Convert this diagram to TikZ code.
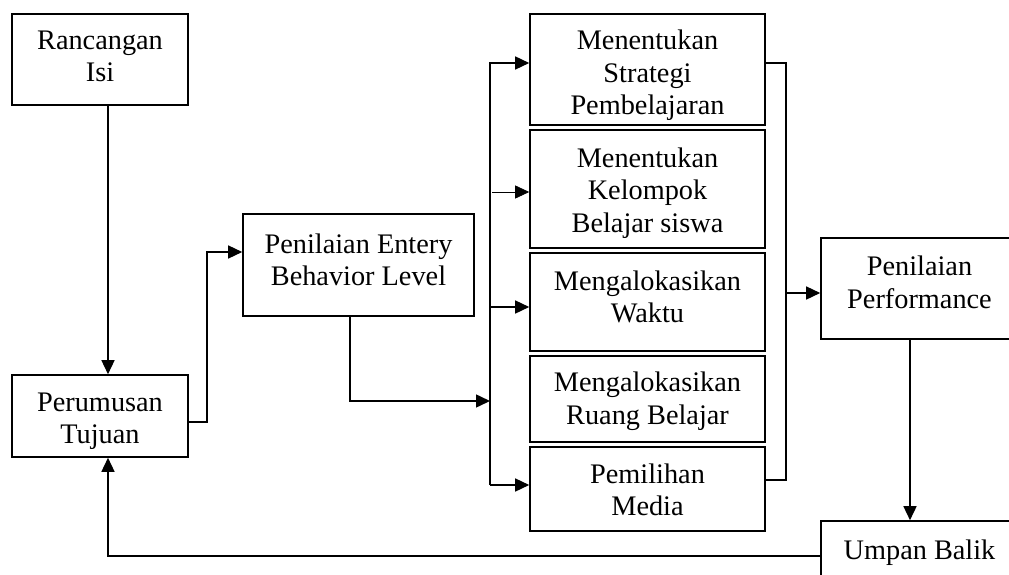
\documentclass[tikz,border=0pt]{standalone}
\usepackage{fontspec}
\setmainfont{Liberation Serif}
\usetikzlibrary{arrows.meta}
\begin{document}
\begin{tikzpicture}[x=1pt,y=-1pt,
  box/.style={draw, line width=1.6pt, inner sep=0pt},
  tx/.style={align=center, inner sep=0pt, font=\fontsize{28.3}{32.5}\selectfont},
  conn/.style={line width=1.5pt},
  arr/.style={conn, -{Triangle[length=14pt,width=13pt]}}]
\useasboundingbox (0,0) rectangle (1009,575);
\clip (0,0) rectangle (1009,575);
\fill[white] (0,0) rectangle (1009,575);
% nodes
\node[box, minimum width=176pt, minimum height=91pt,
  label={[tx,yshift=3pt]center:{Rancangan\\Isi}}] (ri) at (100,59.5) {};
\node[box, minimum width=176pt, minimum height=82pt,
  label={[tx,yshift=-5pt]center:{Perumusan\\Tujuan}}] (pt) at (100,416) {};
\node[box, minimum width=231pt, minimum height=102pt,
  label={[tx,yshift=5pt]center:{Penilaian Entery\\Behavior Level}}] (pe) at (358.5,265) {};
\node[box, minimum width=235pt, minimum height=111pt,
  label={[tx,yshift=-6pt]center:{Menentukan\\Strategi\\Pembelajaran}}] (b1) at (647.5,69.5) {};
\node[box, minimum width=235pt, minimum height=118pt,
  label={[tx,yshift=-4pt]center:{Menentukan\\Kelompok\\Belajar siswa}}] (b2) at (647.5,189) {};
\node[box, minimum width=235pt, minimum height=98pt,
  label={[tx,yshift=5pt]center:{Mengalokasikan\\Waktu}}] (b3) at (647.5,302) {};
\node[box, minimum width=235pt, minimum height=86pt,
  label={[tx,yshift=-2pt]center:{Mengalokasikan\\Ruang Belajar}}] (b4) at (647.5,399) {};
\node[box, minimum width=235pt, minimum height=84pt,
  label={[tx,yshift=-1pt]center:{Pemilihan\\Media}}] (b5) at (647.5,489) {};
\node[box, minimum width=191pt, minimum height=101pt,
  label={[tx,yshift=6pt,xshift=3pt]center:{Penilaian\\Performance}}] (pp) at (916.5,288.5) {};
\node[box, minimum width=191pt, minimum height=61pt,
  label={[tx,yshift=-1pt,xshift=3pt]center:{Umpan Balik}}] (ub) at (916.5,551.5) {};
% helper coordinates
\coordinate (xl) at (108,0);
\coordinate (xp) at (910,0);
\coordinate (xe) at (350,0);
\coordinate (lt) at (490,63);
\coordinate (lk) at (492,192);
\coordinate (lw) at (490,307);
\coordinate (le) at (490,401);
\coordinate (lb) at (490,485);
\coordinate (rt) at (786,63);
\coordinate (rp) at (786,293);
\coordinate (rb) at (786,480);
\coordinate (pj) at (207,0);
% connectors
\draw[arr] (ri.south -| xl) -- (pt.north -| xl);
\draw[arr] ([yshift=-6pt]pt.east) -| ([yshift=13pt]pe.west -| pj) -- ([yshift=13pt]pe.west);
\draw[arr] (pe.south -| xe) |- (le);
\draw[arr] (lb) -- (lt) -- (lt -| b1.west);
\draw[arr] (lb) -- (lb -| b5.west);
\draw[line width=0.8pt, -{Triangle[length=14pt,width=13pt]}] (lk) -- (lk -| b2.west);
\draw[arr] (lw) -- (lw -| b3.west);
\draw[conn] (rt -| b1.east) -- (rt) -- (rb) -- (rb -| b5.east);
\draw[arr] (rp) -- (rp -| pp.west);
\draw[arr] (pp.south -| xp) -- (ub.north -| xp);
\draw[arr] ([yshift=-4.5pt]ub.west) -| (pt.south -| xl);
\end{tikzpicture}
\end{document}
